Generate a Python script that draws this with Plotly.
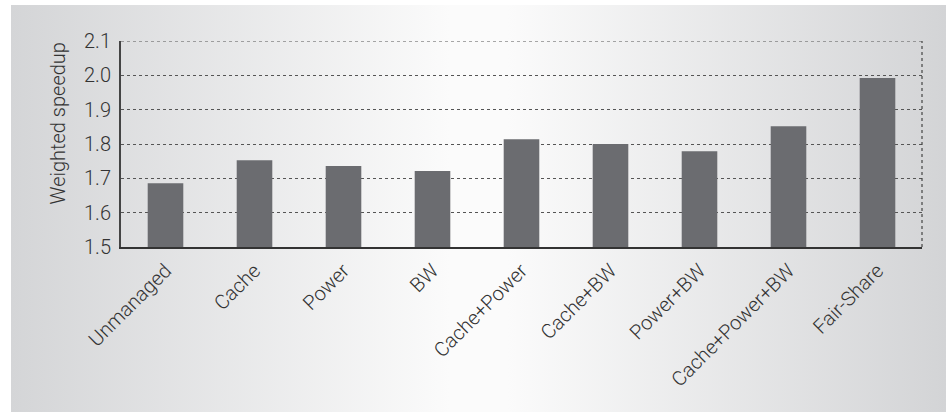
import base64
import plotly.graph_objects as go

categories = ["Unmanaged", "Cache", "Power", "BW", "Cache+Power", "Cache+BW",
              "Power+BW", "Cache+Power+BW", "Fair-Share"]
speedup = [1.686, 1.753, 1.736, 1.721, 1.814, 1.800, 1.779, 1.852, 1.992]
y_ticks = [1.5, 1.6, 1.7, 1.8, 1.9, 2.0, 2.1]
y_tick_text = ["1.5", "1.6", "1.7", "1.8", "1.9", "2.0", "2.1"]
y_title = "Weighted speedup"

W, H = 946, 420
L, R, T, B = 121, 24, 41, 173
pw, ph = W - L - R, H - T - B

svg = """<svg xmlns='http://www.w3.org/2000/svg' width='935' height='407' preserveAspectRatio='none'>
<defs><linearGradient id='g' x1='0' y1='0' x2='1' y2='0'>
<stop offset='0' stop-color='#d4d5d7'/>
<stop offset='0.47' stop-color='#fbfbfb'/>
<stop offset='0.53' stop-color='#fbfbfb'/>
<stop offset='1' stop-color='#d3d4d6'/>
</linearGradient></defs>
<rect width='935' height='407' fill='url(#g)'/></svg>"""
src = "data:image/svg+xml;base64," + base64.b64encode(svg.encode()).decode()

font_family = "Roboto, Liberation Sans, Arial, sans-serif"
fw = 300

fig = go.Figure(go.Bar(
    x=categories, y=speedup, width=0.4,
    marker=dict(color="#6b6c70", line=dict(width=0)),
))

px0, py0, px1, py1 = 11, 5, 946, 412
fig.add_layout_image(dict(
    source=src, xref="paper", yref="paper",
    x=(px0 - L) / pw, y=(H - B - py0) / ph,
    sizex=(px1 - px0) / pw, sizey=(py1 - py0) / ph,
    xanchor="left", yanchor="top", sizing="stretch", layer="below",
))

fig.add_shape(type="line", xref="paper", yref="paper", x0=1, x1=1, y0=0, y1=1,
              line=dict(color="#444", width=1.2, dash="dot"))
fig.add_shape(type="line", xref="paper", yref="y", x0=0, x1=1, y0=y_ticks[-1], y1=y_ticks[-1],
              line=dict(color="#555", width=1, dash="dot"))

fig.add_annotation(
    text=y_title, xref="paper", yref="paper",
    x=(57 - L) / pw, y=(H - B - 123.5) / ph,
    xanchor="center", yanchor="middle", textangle=-90, showarrow=False,
    font=dict(size=20, color="#333", weight=fw),
)

fig.update_layout(
    width=W, height=H,
    margin=dict(l=L, r=R, t=T, b=B, pad=0),
    paper_bgcolor="white", plot_bgcolor="white",
    showlegend=False,
    font=dict(family=font_family, color="#333", size=20, weight=fw),
    bargap=0.6,
)
fig.update_xaxes(
    showgrid=False, showline=True, linecolor="#333", linewidth=2,
    tickangle=-45, tickfont=dict(size=20, weight=fw), ticks="", ticklabelstandoff=2,
)
fig.update_yaxes(
    range=[1.5, 2.1], tickvals=y_ticks, ticktext=y_tick_text,
    showgrid=True, gridcolor="#555", griddash="dot", gridwidth=1,
    showline=True, linecolor="#444", linewidth=2, zeroline=False,
    ticks="", ticklabelstandoff=4, tickfont=dict(size=20, weight=fw),
)

fig.write_html("out.html", config={"displayModeBar": False},
               post_script="document.body.style.margin='0';document.body.style.overflow='hidden';")
